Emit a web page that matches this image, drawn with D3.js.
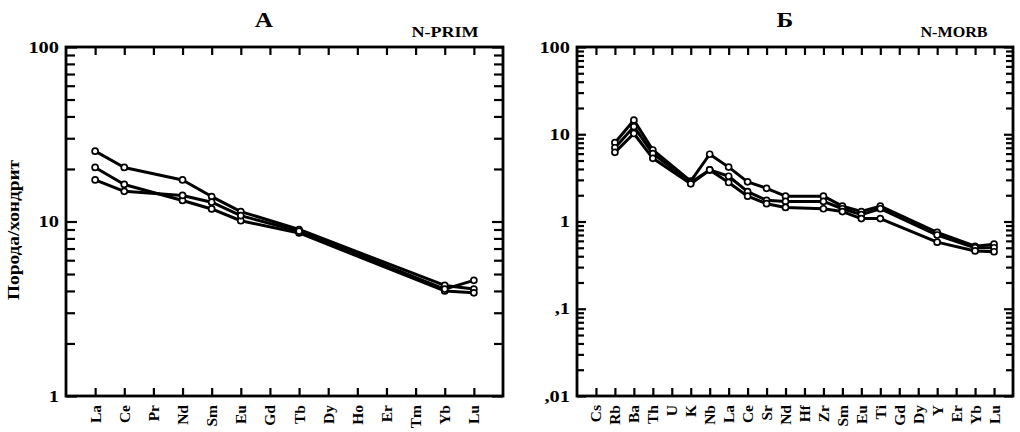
<!DOCTYPE html>
<html>
<head>
<meta charset="utf-8">
<script src="https://cdn.jsdelivr.net/npm/d3@7/dist/d3.min.js"></script>
<style>
  html, body { margin: 0; padding: 0; background: #fff; }
  svg { display: block; }
  text { font-family: "Liberation Serif", "Times New Roman", serif; font-weight: bold; fill: #000; }
</style>
</head>
<body>
<svg id="chart" width="1020" height="432"></svg>
<script>
// Chondrite-normalised REE (panel А)
const reeElements = ["La","Ce","Pr","Nd","Sm","Eu","Gd","Tb","Dy","Ho","Er","Tm","Yb","Lu"];
const reeSample1 = [25.3, 20.4, null, 17.3, 13.9, 11.4, null, 9.0, null, null, null, null, 4.3, 4.1];
const reeSample2 = [20.4, 16.3, null, 13.2, 11.8, 10.1, null, 8.6, null, null, null, null, 4.0, 3.9];
const reeSample3 = [17.3, 14.9, null, 14.1, 12.9, 10.8, null, 8.8, null, null, null, null, 4.1, 4.6];
const reeTicks = [1, 10, 100];
const reeTickLabels = ["1", "10", "100"];

// N-MORB-normalised spidergram (panel Б)
const spiderElements = ["Cs","Rb","Ba","Th","U","K","Nb","La","Ce","Sr","Nd","Hf","Zr","Sm","Eu","Ti","Gd","Dy","Y","Er","Yb","Lu"];
const spiderSample1 = [null, 8.0, 14.5, 6.6, null, 2.9, 5.9, 4.2, 2.85, 2.4, 1.95, null, 1.95, 1.5, 1.3, 1.5, null, null, 0.75, null, 0.52, 0.55];
const spiderSample2 = [null, 7.0, 12.2, 6.0, null, 2.8, 3.9, 3.3, 2.2, 1.75, 1.7, null, 1.7, 1.4, 1.2, 1.4, null, null, 0.7, null, 0.5, 0.5];
const spiderSample3 = [null, 6.2, 10.2, 5.3, null, 2.7, 3.9, 2.8, 1.95, 1.6, 1.45, null, 1.4, 1.3, 1.08, 1.08, null, null, 0.58, null, 0.46, 0.45];
const spiderTicks = [0.01, 0.1, 1, 10, 100];
const spiderTickLabels = [",01", ",1", "1", "10", "100"];

const svg = d3.select("#chart");

// minor log ticks (2..9 in every decade) between lo and hi
function minorTicks(lo, hi) {
  const out = [];
  for (let e = Math.round(Math.log10(lo)); e < Math.round(Math.log10(hi)); e++) {
    for (let m = 2; m <= 9; m++) out.push(m * Math.pow(10, e));
  }
  return out;
}

function panel(opt) {
  const { left, right, top, bottom, cats, series, domain, ticks, tickLabels,
          title, titleX, norm, normX, majorLen, minorLen } = opt;
  const g = svg.append("g");

  const x = d3.scalePoint().domain(cats).range([left, right]).padding(1);
  const y = d3.scaleLog().domain(domain).range([bottom, top]);

  const clean = s => s.attr("stroke-width", 2.2).call(a => a.select(".domain").remove());

  // tick marks on all four sides, all pointing inward
  g.append("g").attr("transform", `translate(0,${top})`)
    .call(d3.axisBottom(x).tickSize(8).tickFormat("")).call(clean);
  g.append("g").attr("transform", `translate(0,${bottom})`)
    .call(d3.axisTop(x).tickSize(8).tickFormat("")).call(clean);
  [[left, d3.axisRight], [right, d3.axisLeft]].forEach(([px, ax]) => {
    g.append("g").attr("transform", `translate(${px},0)`)
      .call(ax(y).tickValues(ticks).tickSize(majorLen).tickFormat("")).call(clean);
    g.append("g").attr("transform", `translate(${px},0)`)
      .call(ax(y).tickValues(minorTicks(domain[0], domain[1])).tickSize(minorLen).tickFormat("")).call(clean);
  });

  // frame
  g.append("rect")
    .attr("x", left).attr("y", top)
    .attr("width", right - left).attr("height", bottom - top)
    .attr("fill", "none").attr("stroke", "#000").attr("stroke-width", 2.8);

  // y tick labels
  g.selectAll(".ylab").data(ticks).join("text")
    .attr("class", "ylab")
    .attr("transform", d => `translate(${left - 7},${y(d) + 5.5}) scale(1.2,1)`)
    .attr("text-anchor", "end")
    .attr("font-size", 17)
    .text((d, i) => tickLabels[i]);

  // category labels, rotated
  g.selectAll(".xlab").data(cats).join("text")
    .attr("class", "xlab")
    .attr("transform", d => `translate(${x(d) + 5.5},${bottom + 9}) rotate(-90)`)
    .attr("text-anchor", "end")
    .attr("font-size", 15.5)
    .text(d => d);

  // titles
  g.append("text").attr("x", titleX).attr("y", 27)
    .attr("text-anchor", "middle").attr("font-size", 22)
    .attr("transform", `translate(${titleX},0) scale(1.15,1) translate(${-titleX},0)`)
    .text(title);
  g.append("text").attr("x", normX).attr("y", 37)
    .attr("text-anchor", "middle").attr("font-size", 14.5)
    .attr("textLength", norm.length * 11.2).attr("lengthAdjust", "spacingAndGlyphs")
    .text(norm);

  // sample lines and open-circle markers
  const line = d3.line().x(d => x(d.c)).y(d => y(d.v));
  series.forEach(vals => {
    const pts = cats.map((c, i) => ({ c, v: vals[i] })).filter(d => d.v != null);
    g.append("path").datum(pts)
      .attr("d", line).attr("fill", "none")
      .attr("stroke", "#000").attr("stroke-width", 3).attr("stroke-linejoin", "round");
  });
  series.forEach(vals => {
    const pts = cats.map((c, i) => ({ c, v: vals[i] })).filter(d => d.v != null);
    g.append("g").selectAll("circle").data(pts).join("circle")
      .attr("cx", d => x(d.c)).attr("cy", d => y(d.v)).attr("r", 3)
      .attr("fill", "#fff").attr("stroke", "#000").attr("stroke-width", 1.7);
  });
  return g;
}

panel({
  left: 66, right: 503, top: 47, bottom: 396,
  cats: reeElements, series: [reeSample1, reeSample2, reeSample3],
  domain: [1, 100], ticks: reeTicks, tickLabels: reeTickLabels,
  title: "А", titleX: 264, norm: "N-PRIM", normX: 445,
  majorLen: 11, minorLen: 9
});

panel({
  left: 577, right: 1013, top: 47, bottom: 396,
  cats: spiderElements, series: [spiderSample1, spiderSample2, spiderSample3],
  domain: [0.01, 100], ticks: spiderTicks, tickLabels: spiderTickLabels,
  title: "Б", titleX: 785, norm: "N-MORB", normX: 954,
  majorLen: 9, minorLen: 7
});

// shared y-axis title
svg.append("text")
  .attr("transform", "translate(19,230) rotate(-90)")
  .attr("text-anchor", "middle")
  .attr("font-size", 17)
  .attr("textLength", 140).attr("lengthAdjust", "spacingAndGlyphs")
  .text("Порода/хондрит");
</script>
</body>
</html>
